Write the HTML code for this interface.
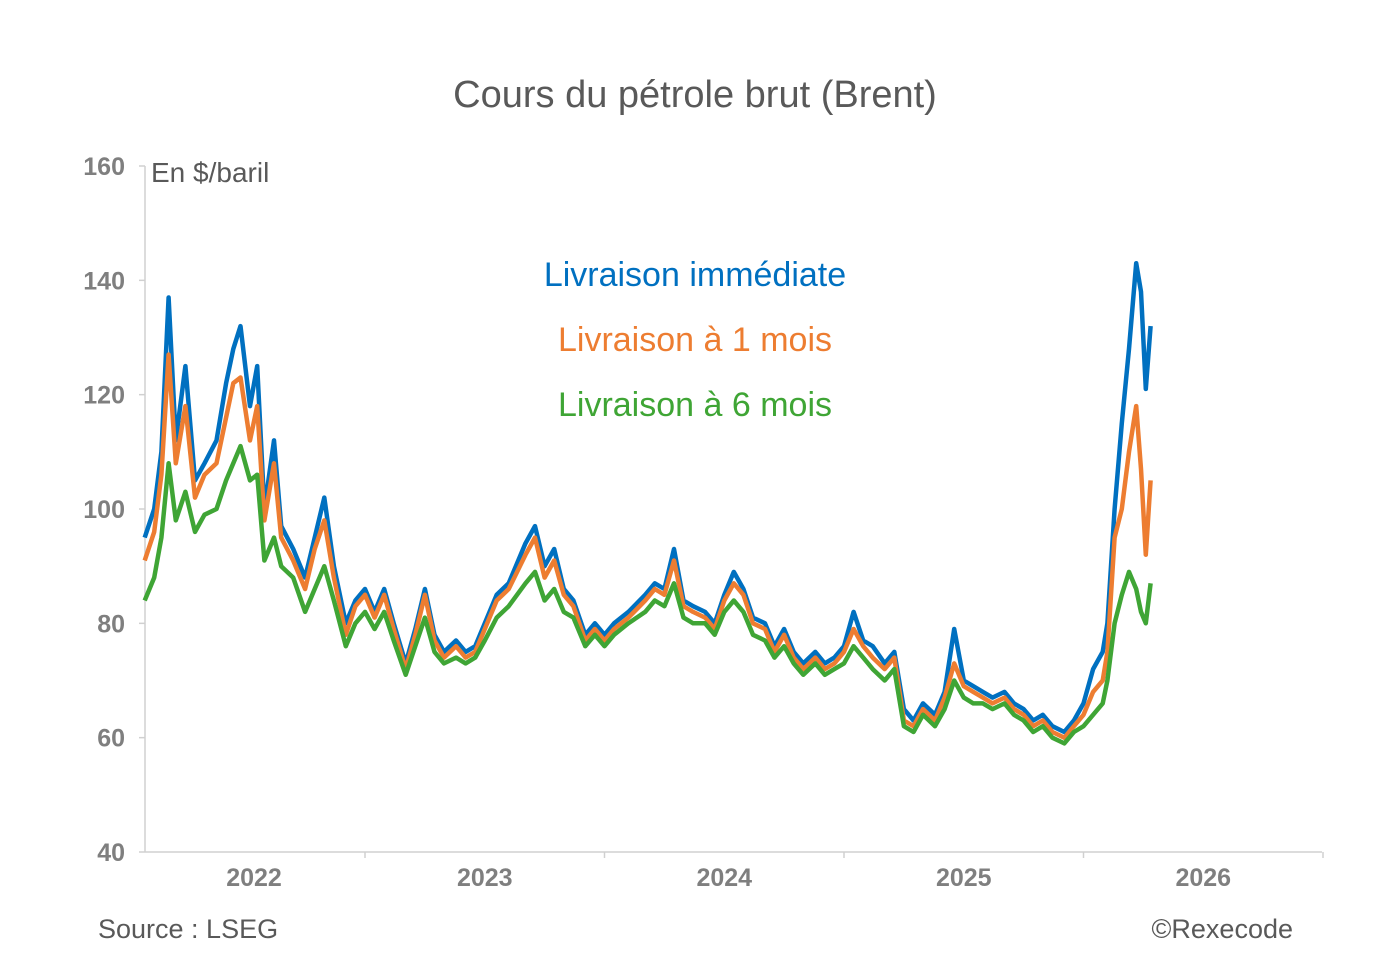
<!DOCTYPE html>
<html><head><meta charset="utf-8">
<style>
body{margin:0;background:#fff;}
svg{display:block;font-family:"Liberation Sans","DejaVu Sans",sans-serif;}
</style></head>
<body>
<svg id="chart" width="1390" height="966" viewBox="0 0 1390 966">
<text x="695" y="107" text-anchor="middle" font-size="38" fill="#595959">Cours du pétrole brut (Brent)</text>
<text x="151" y="182" font-size="28" fill="#595959">En $/baril</text>
<text x="695" y="286" text-anchor="middle" font-size="34" fill="#0070C0">Livraison immédiate</text>
<text x="695" y="351" text-anchor="middle" font-size="34" fill="#ED7D31">Livraison à 1 mois</text>
<text x="695" y="416" text-anchor="middle" font-size="34" fill="#3FA535">Livraison à 6 mois</text>
<text x="98" y="938" font-size="27" fill="#595959">Source : LSEG</text>
<text x="1293" y="938" text-anchor="end" font-size="27" fill="#595959">©Rexecode</text>
<g id="axes"></g>
<g id="series"></g>
</svg>
<script>
const dates=[2022.08,2022.12,2022.15,2022.18,2022.21,2022.25,2022.29,2022.33,2022.38,2022.42,2022.45,2022.48,2022.52,2022.55,2022.58,2022.62,2022.65,2022.70,2022.75,2022.79,2022.83,2022.87,2022.92,2022.96,2023.00,2023.04,2023.08,2023.12,2023.17,2023.21,2023.25,2023.29,2023.33,2023.38,2023.42,2023.46,2023.50,2023.55,2023.60,2023.67,2023.71,2023.75,2023.79,2023.83,2023.87,2023.92,2023.96,2024.00,2024.04,2024.10,2024.17,2024.21,2024.25,2024.29,2024.33,2024.37,2024.42,2024.46,2024.50,2024.54,2024.58,2024.62,2024.67,2024.71,2024.75,2024.79,2024.83,2024.88,2024.92,2024.96,2025.00,2025.04,2025.08,2025.12,2025.17,2025.21,2025.25,2025.29,2025.33,2025.38,2025.42,2025.46,2025.50,2025.54,2025.58,2025.62,2025.67,2025.71,2025.75,2025.79,2025.83,2025.87,2025.92,2025.96,2026.00,2026.04,2026.08,2026.10,2026.13,2026.16,2026.19,2026.22,2026.24,2026.26,2026.28];
const immediate=[95,100,110,137,112,125,105,108,112,122,128,132,118,125,100,112,97,93,88,95,102,90,80,84,86,82,86,80,73,79,86,78,75,77,75,76,80,85,87,94,97,90,93,86,84,78,80,78,80,82,85,87,86,93,84,83,82,80,85,89,86,81,80,76,79,75,73,75,73,74,76,82,77,76,73,75,65,63,66,64,68,79,70,69,68,67,68,66,65,63,64,62,61,63,66,72,75,80,100,115,128,143,138,121,132];
const month1=[91,96,106,127,108,118,102,106,108,116,122,123,112,118,98,108,95,91,86,93,98,88,78,83,85,81,85,79,72,78,85,77,74,76,74,75,79,84,86,92,95,88,91,85,83,77,79,77,79,81,84,86,85,91,83,82,81,79,84,87,85,80,79,75,78,74,72,74,72,73,75,79,76,74,72,74,63,62,65,63,67,73,69,68,67,66,67,65,64,62,63,61,60,62,64,68,70,75,95,100,110,118,107,92,105];
const month6=[84,88,95,108,98,103,96,99,100,105,108,111,105,106,91,95,90,88,82,86,90,84,76,80,82,79,82,77,71,76,81,75,73,74,73,74,77,81,83,87,89,84,86,82,81,76,78,76,78,80,82,84,83,87,81,80,80,78,82,84,82,78,77,74,76,73,71,73,71,72,73,76,74,72,70,72,62,61,64,62,65,70,67,66,66,65,66,64,63,61,62,60,59,61,62,64,66,70,80,85,89,86,82,80,87];
const yTicks=[40,60,80,100,120,140,160];
const xYears=[2022,2023,2024,2025,2026];

const X0=125.5, PXY=239.5;
const xs=d=>X0+(d-2022)*PXY;
const ys=v=>852-(v-40)*(686/120);
const NS='http://www.w3.org/2000/svg';
const axes=document.getElementById('axes'), series=document.getElementById('series');
function mk(tag,attrs,parent){const e=document.createElementNS(NS,tag);for(const k in attrs)e.setAttribute(k,attrs[k]);parent.appendChild(e);return e;}

let yl=mk('line',{x1:145,y1:166,x2:145,y2:852,stroke:'#D0D0D0','stroke-width':1.5},axes);


let xl=mk('line',{x1:145,y1:852,x2:1322,y2:852,stroke:'#D0D0D0','stroke-width':1.5},axes);


yTicks.forEach(v=>{
  mk('line',{x1:139,y1:ys(v),x2:145,y2:ys(v),stroke:'#D0D0D0','stroke-width':1.5},axes);
  const t=mk('text',{x:125,y:ys(v)+9,'text-anchor':'end','font-size':25,'font-weight':'bold',fill:'#7F7F7F'},axes);
  t.textContent=v;
  
  
});
xYears.forEach(y=>{
  const xe=xs(y+1);
  mk('line',{x1:xe,y1:852,x2:xe,y2:858,stroke:'#D0D0D0','stroke-width':1.5},axes);
  const t=mk('text',{x:(y===2022?254:xs(y+0.5)),y:886,'text-anchor':'middle','font-size':25,'font-weight':'bold',fill:'#7F7F7F'},axes);
  t.textContent=y;
  
  
});
function line(vals,color,name){
  const d=vals.map((v,i)=>(i?'L':'M')+xs(dates[i]).toFixed(1)+','+ys(v).toFixed(1)).join('');
  const p=mk('path',{d:d,fill:'none',stroke:color,'stroke-width':4.5,'stroke-linejoin':'round'},series);
  
  
}
line(immediate,'#0070C0','series-immediate');
line(month1,'#ED7D31','series-1-month');
line(month6,'#3FA535','series-6-months');
</script>
</body></html>
